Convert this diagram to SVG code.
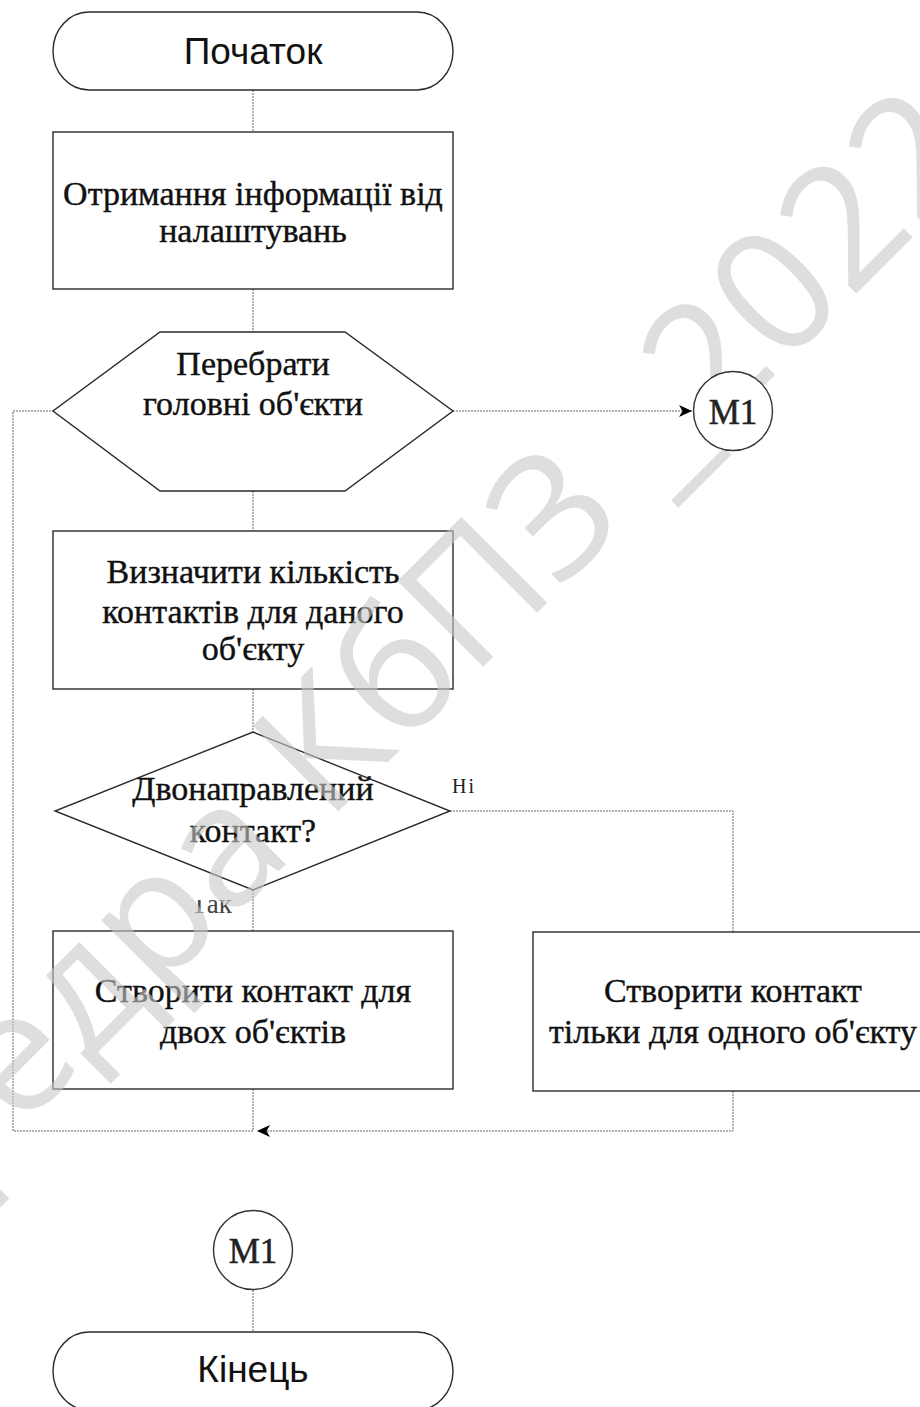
<svg xmlns="http://www.w3.org/2000/svg" width="920" height="1407" viewBox="0 0 920 1407">
  <defs>
    <style>
      .shape { fill: none; stroke: #2a2a2a; stroke-width: 1.4; }
      .conn { fill: none; stroke: #666; stroke-width: 1; stroke-dasharray: 2 1; }
      .sans { font-family: "Liberation Sans", Arial, sans-serif; font-size: 37px; fill: #111; text-anchor: middle; }
      .serif { font-family: "Liberation Serif", "Times New Roman", serif; font-size: 34px; fill: #111; stroke: #111; stroke-width: 0.4; text-anchor: middle; }
      .lbl { font-family: "Liberation Serif", "Times New Roman", serif; font-size: 20px; fill: #222; letter-spacing: 2px; }
      .conn-node { fill: #fff; stroke: #333; stroke-width: 1.4; }
      .mark { font-family: "Liberation Serif", "Times New Roman", serif; font-size: 35px; fill: #222; stroke: #222; stroke-width: 0.5; text-anchor: middle; }
      .wm { font-family: "Open Sans", "DejaVu Sans", sans-serif; font-size: 170px; fill: #c8c8c8; fill-opacity: 0.6; }
    </style>
    <marker id="arrow" markerWidth="14" markerHeight="12" refX="13" refY="6" orient="auto" markerUnits="userSpaceOnUse">
      <path d="M0,0 L13,6 L0,12 L3.5,6 Z" fill="#000"/>
    </marker>
    <clipPath id="yes-clip">
      <rect x="180" y="900" width="80" height="30"/>
    </clipPath>
  </defs>

  <!-- connectors -->
  <g id="connectors">
    <line class="conn" x1="253" y1="90" x2="253" y2="132"/>
    <line class="conn" x1="253" y1="289" x2="253" y2="332"/>
    <line class="conn" x1="253" y1="491" x2="253" y2="531"/>
    <line class="conn" x1="253" y1="689" x2="253" y2="732"/>
    <line class="conn" x1="253" y1="890" x2="253" y2="931"/>
    <line class="conn" x1="453" y1="411" x2="692" y2="411" marker-end="url(#arrow)"/>
    <path class="conn" d="M450,811 H733 V932"/>
    <path class="conn" d="M733,1091 V1131 H257" marker-end="url(#arrow)"/>
    <path class="conn" d="M253,1089 V1131 H13 V411 H53"/>
    <line class="conn" x1="253" y1="1290" x2="253" y2="1332"/>
    <text class="lbl" x="452" y="793">Ні</text>
    <text class="lbl" x="191" y="913" clip-path="url(#yes-clip)" style="font-size:27px;letter-spacing:0;fill:#444">Так</text>
  </g>

  <g id="start">
    <rect class="shape" x="53" y="12" width="400" height="78" rx="36" ry="39"/>
    <text class="sans" x="253" y="64">Початок</text>
  </g>

  <g id="read-settings">
    <rect class="shape" x="53" y="132" width="400" height="157"/>
    <text class="serif" x="253" y="205">Отримання інформації від</text>
    <text class="serif" x="253" y="242">налаштувань</text>
  </g>

  <g id="loop-objects">
    <polygon class="shape" points="160,332 345,332 453,411 345,491 160,491 53,411"/>
    <text class="serif" x="253" y="375">Перебрати</text>
    <text class="serif" x="253" y="415">головні об'єкти</text>
  </g>

  <g id="count-contacts">
    <rect class="shape" x="53" y="531" width="400" height="158"/>
    <text class="serif" x="253" y="583">Визначити кількість</text>
    <text class="serif" x="253" y="623">контактів для даного</text>
    <text class="serif" x="253" y="660">об'єкту</text>
  </g>

  <g id="is-bidirectional">
    <polygon class="shape" points="253,732 450,811 253,890 55,811"/>
    <text class="serif" x="253" y="800">Двонаправлений</text>
    <text class="serif" x="253" y="842">контакт?</text>
  </g>

  <g id="create-both">
    <rect class="shape" x="53" y="931" width="400" height="158"/>
    <text class="serif" x="253" y="1002">Створити контакт для</text>
    <text class="serif" x="253" y="1043">двох об'єктів</text>
  </g>

  <g id="create-one">
    <rect class="shape" x="533" y="932" width="400" height="159"/>
    <text class="serif" x="733" y="1002">Створити контакт</text>
    <text class="serif" x="733" y="1043">тільки для одного об'єкту</text>
  </g>

  <g id="end">
    <rect class="shape" x="53" y="1332" width="400" height="78" rx="36" ry="39"/>
    <text class="sans" x="253" y="1382">Кінець</text>
  </g>

  <!-- department watermark across the sheet -->
  <text class="wm" text-anchor="end" transform="translate(988,162) rotate(-45)">Кафедра КбПЗ _2022</text>

  <g id="m1-out">
    <circle class="conn-node" cx="733" cy="411" r="39.5"/>
    <text class="mark" x="733" y="424">M1</text>
  </g>

  <g id="m1-in">
    <circle class="conn-node" cx="253" cy="1250" r="39.5"/>
    <text class="mark" x="253" y="1263">M1</text>
  </g>
</svg>
